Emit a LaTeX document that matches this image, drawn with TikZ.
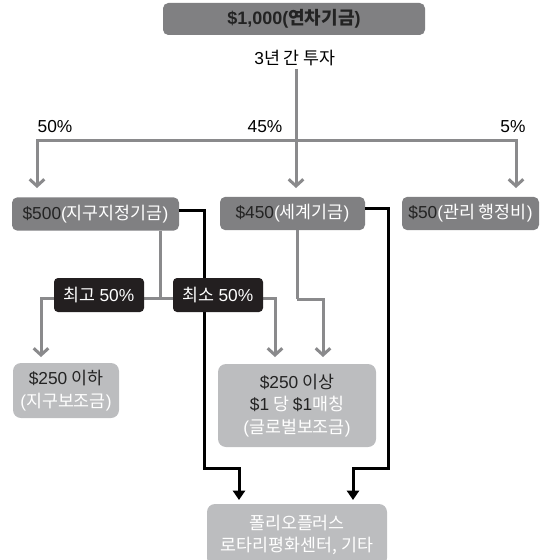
\documentclass[tikz,border=0pt]{standalone}
\usepackage{fontspec}
\setmainfont{Noto Sans CJK KR}
\newfontfamily\latin{Liberation Sans}
\usetikzlibrary{arrows.meta}
\definecolor{boxgray}{RGB}{128,128,130}
\definecolor{lightgray}{RGB}{188,189,191}
\definecolor{linegray}{RGB}{138,138,140}
\definecolor{txtdark}{RGB}{35,35,35}
\definecolor{labelblack}{RGB}{35,31,32}

\begin{document}
\begin{tikzpicture}[x=0.75pt,y=-0.75pt,
topbox/.style={fill=boxgray, rounded corners=4pt, minimum width=196.5pt, minimum height=24pt,
  text=txtdark, font=\fontsize{13.5}{15}\selectfont\bfseries},
fundbox/.style={fill=boxgray, rounded corners=4pt, minimum height=25pt, inner sep=0pt,
  text=white, font=\fontsize{13}{15}\selectfont},
grantbox/.style={fill=lightgray, rounded corners=6pt, inner sep=0pt, align=center,
  text=white, font=\fontsize{13}{17}\selectfont},
sharebox/.style={fill=labelblack, rounded corners=3pt, minimum width=67.5pt, minimum height=25.5pt,
  inner sep=0pt, text=white, font=\fontsize{13}{15}\selectfont},
pctlabel/.style={font=\fontsize{13}{15}\selectfont},
grayline/.style={draw=linegray, line width=2.25pt},
grayarrow/.style={grayline, -{Straight Barb[length=5pt,width=11pt,line width=2.25pt]}},
blackarrow/.style={draw=black, line width=2.25pt, -{Triangle[length=7pt,width=9pt]}},
]
\clip (0,0) rectangle (545,560);
\useasboundingbox (0,0) rectangle (545,560);

%Nodes
\node[topbox]   (total)   at (294,19)  {{\latin\$1,000(}연차기금{\latin)}};
\node[pctlabel, inner sep=2pt] (invest) at (295,58) {{\latin 3}년 간 투자};

\node[fundbox, minimum width=125.25pt] (fund500) at (95.5,214)  {\textcolor{txtdark}{\latin\$500}{\latin(}지구지정기금{\latin)}};
\node[fundbox, minimum width=108.75pt] (fund450) at (292.5,213.5) {\textcolor{txtdark}{\latin\$450}{\latin(}세계기금{\latin)}};
\node[fundbox, minimum width=102.75pt] (fund50)  at (470.5,213.5) {\textcolor{txtdark}{\latin\$50}{\latin(}관리 행정비{\latin)}};

\node[grantbox, minimum width=79.5pt, minimum height=41.25pt] (grantlo) at (66,390.5)
  {\textcolor{txtdark}{{\latin\$250} 이하}\\{\latin(}지구보조금{\latin)}};
\node[grantbox, minimum width=118.5pt, minimum height=62.25pt] (granthi) at (297,405.5)
  {\textcolor{txtdark}{{\latin\$250} 이상}\\\textcolor{txtdark}{\latin\$1} 당 \textcolor{txtdark}{\latin\$1}매칭\\{\latin(}글로벌보조금{\latin)}};
\node[grantbox, minimum width=135pt, minimum height=46.5pt] (other) at (297,535)
  {폴리오플러스\\로타리평화센터, 기타};

\node[pctlabel] (p50) at (55,127)  {\latin 50\%};
\node[pctlabel] (p45) at (265,127) {\latin 45\%};
\node[pctlabel] (p5)  at (513,127) {\latin 5\%};

%Coordinates
\coordinate (split) at (296,140);
\coordinate (a50)   at (37,188);
\coordinate (a45)   at (296,188);
\coordinate (a5)    at (516,188);
\coordinate (b500)  at (160,298);
\coordinate (lo)    at (41,357);
\coordinate (hi1)   at (275,357);
\coordinate (b450)  at (297,299);
\coordinate (hi2)   at (323,357);
\coordinate (k500)  at (204,468);
\coordinate (k450)  at (388,468);
\coordinate (in1)   at (239,500);
\coordinate (in2)   at (353,500);

%Connectors
\draw[grayarrow] (invest.south -| split) -- (a45);
\draw[grayarrow] (split) -| (a50);
\draw[grayarrow] (split) -| (a5);

\draw[grayline] (fund500.south -| b500) -- (b500);
\draw[grayarrow] (b500) -| (lo);
\draw[grayarrow] (b500) -| (hi1);
\draw[grayline] (fund450.south -| b450) -- (b450);
\draw[grayarrow] (b450) -| (hi2);

\draw[blackarrow] ([yshift=3pt]fund500.east) -| (k500) -| (in1);
\draw[blackarrow] ([yshift=4pt]fund450.east) -| (k450) -| (in2);

%Share labels
\node[sharebox] (max50) at (99,295)  {최고 {\latin 50\%}};
\node[sharebox] (min50) at (218,295) {최소 {\latin 50\%}};

\end{tikzpicture}
\end{document}
